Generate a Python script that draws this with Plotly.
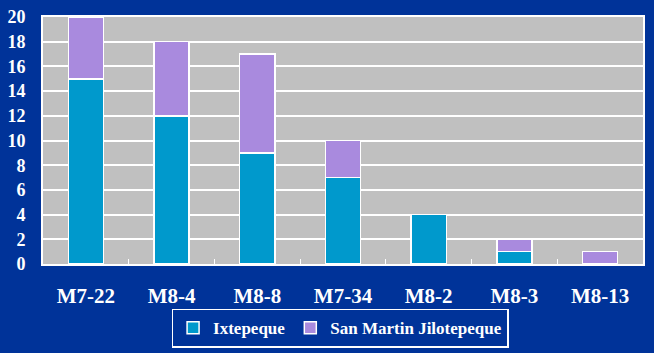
import plotly.graph_objects as go

categories = ["M7-22", "M8-4", "M8-8", "M7-34", "M8-2", "M8-3", "M8-13"]
ixtepeque = [15, 12, 9, 7, 4, 1, 0]
san_martin = [5, 6, 8, 3, 0, 1, 1]
y_ticks = [0, 2, 4, 6, 8, 10, 12, 14, 16, 18, 20]

font_family = "Liberation Serif"

fig = go.Figure()
fig.add_trace(go.Bar(x=categories, y=ixtepeque, name="Ixtepeque",
                     marker=dict(color="#0099CC", line=dict(color="white", width=1.5))))
fig.add_trace(go.Bar(x=categories, y=san_martin, name="San Martin Jilotepeque",
                     marker=dict(color="#A98ADE", line=dict(color="white", width=1.5))))

fig.update_layout(
    width=654, height=353,
    barmode="stack", bargap=0.59,
    paper_bgcolor="#003399", plot_bgcolor="#C0C0C0",
    margin=dict(l=43, r=11, t=17, b=89, autoexpand=False),
    font=dict(family=font_family, color="white"),
    showlegend=True,
    legend=dict(orientation="h", x=0.52, xanchor="center", xref="container",
                y=0.015, yanchor="bottom", yref="container",
                traceorder="normal",
                bordercolor="white", borderwidth=1.5,
                font=dict(size=17, family=font_family, color="white", weight="bold"),
                itemwidth=30, tracegroupgap=0),
    xaxis=dict(showline=True, linecolor="white", linewidth=2,
               ticks="inside", tickson="boundaries", ticklen=5, tickcolor="white",
               tickfont=dict(size=21, family=font_family, color="white", weight="bold"),
               ticklabelstandoff=12, mirror=True, showgrid=False),
    yaxis=dict(range=[0, 20], tickvals=y_ticks, showgrid=True, gridcolor="white", gridwidth=1.5,
               showline=True, linecolor="white", linewidth=2, mirror=True,
               tickfont=dict(size=18, family=font_family, color="white", weight="bold"),
               ticks="", ticklabelstandoff=12, zeroline=False),
)

fig.write_html("out.html")
